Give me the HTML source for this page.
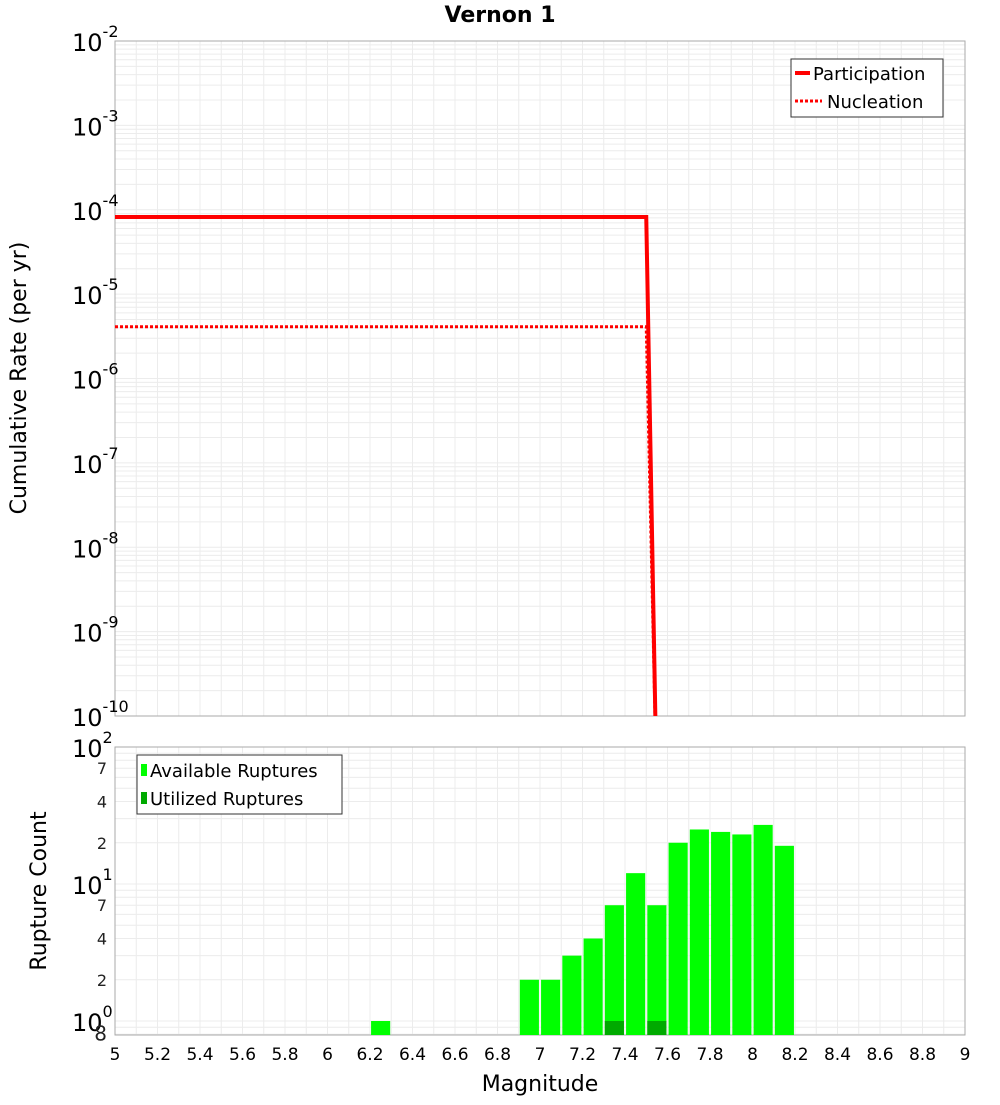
<!DOCTYPE html>
<html><head><meta charset="utf-8"><style>
body{margin:0;background:#fff;font-family:"Liberation Sans","DejaVu Sans",sans-serif}
svg text{font-family:"DejaVu Sans","Liberation Sans",sans-serif}
</style></head><body>
<svg id="c" width="1000" height="1100"></svg>
<script>
const partMags=[5,7.5,7.55];
const partRates=[8.2e-5,8.2e-5,1e-11];
const nuclMags=[5,7.5,7.55];
const nuclRates=[4.1e-6,4.1e-6,1e-11];
const binCenters=[6.25,6.95,7.05,7.15,7.25,7.35,7.45,7.55,7.65,7.75,7.85,7.95,8.05,8.15];
const availCounts=[1,2,2,3,4,7,12,7,20,25,24,23,27,19];
const usedCenters=[7.35,7.55];
const usedCounts=[1,1];
const xTicks=[5,5.2,5.4,5.6,5.8,6,6.2,6.4,6.6,6.8,7,7.2,7.4,7.6,7.8,8,8.2,8.4,8.6,8.8,9];
const NS='http://www.w3.org/2000/svg';
const svg=document.getElementById('c');
function mk(t,a,p){const e=document.createElementNS(NS,t);for(const k in a)e.setAttribute(k,a[k]);(p||svg).appendChild(e);return e;}
const L=115,R=965;
const X=m=>L+(m-5)/4*(R-L);
const T0=41,T1=716;
const Yt=v=>T0+(-2-Math.log10(v))/8*(T1-T0);
const B0=747,B1=1035;
const Yb=v=>B0+(2-Math.log10(v))*137;
// top grid
let g=mk('g',{});

for(let d=-10;d<-2;d++)for(let k=1;k<10;k++){const y=Yt(k*Math.pow(10,d));mk('line',{x1:L,x2:R,y1:y,y2:y,stroke:'#ececec','stroke-width':1},g);}
for(let i=0;i<=40;i++){const x=X(5+i*0.1);mk('line',{x1:x,x2:x,y1:T0,y2:T1,stroke:'#ececec'},g);mk('line',{x1:x,x2:x,y1:B0,y2:B1,stroke:'#ececec'},g);}
let gb=mk('g',{});

for(let d=-1;d<2;d++)for(let k=1;k<10;k++){const v=k*Math.pow(10,d);const y=Yb(v);if(y<B0||y>B1)continue;mk('line',{x1:L,x2:R,y1:y,y2:y,stroke:'#ececec'},gb);}
mk('rect',{x:L,y:T0,width:R-L,height:T1-T0,fill:'none',stroke:'#aaa'});
mk('rect',{x:L,y:B0,width:R-L,height:B1-B0,fill:'none',stroke:'#aaa'});
// top series
const clipT=mk('clipPath',{id:'ct'});mk('rect',{x:L,y:T0,width:R-L,height:T1-T0},clipT);
function line(ms,vs,dash,name){const p=mk('polyline',{points:ms.map((m,i)=>X(m)+','+Yt(vs[i])).join(' '),fill:'none',stroke:'#ff0000','stroke-width':dash?3:4,'stroke-dasharray':dash?'3,2':'none','clip-path':'url(#ct)'});}
line(partMags,partRates,false,'participation-line');
line(nuclMags,nuclRates,true,'nucleation-line');
// bars
binCenters.forEach((c,i)=>{const y=Yb(availCounts[i]);const b=mk('rect',{x:X(c-0.045),y:y,width:X(0.09+5)-L,height:B1-y,fill:'#00ff00'});});
usedCenters.forEach((c,i)=>{const y=Yb(usedCounts[i]);const b=mk('rect',{x:X(c-0.045),y:y,width:X(0.09+5)-L,height:B1-y,fill:'#00aa00'});});
// axes labels
function txt(x,y,s,o){const t=mk('text',Object.assign({x:x,y:y,'font-size':20,fill:'#000'},o||{}));t.textContent=s;return t;}
for(let d=-10;d<=-2;d++){const y=Yt(Math.pow(10,d));const t=mk('text',{x:72,y:y+10,'font-size':24});t.textContent='10';const s=mk('tspan',{dy:-14,'font-size':16},t);s.textContent=String(d);}
[[100,'10','2'],[10,'10','1'],[1,'10','0']].forEach(a=>{const y=Yb(a[0]);const t=mk('text',{x:72,y:y+10,'font-size':24});t.textContent=a[1];const s=mk('tspan',{dy:-14,'font-size':16},t);s.textContent=a[2];});
[[70,'7'],[40,'4'],[20,'2'],[7,'7'],[4,'4'],[2,'2'],[0.8,'8']].forEach(a=>{const t=txt(107,Yb(a[0])+6,a[1],{'font-size':16,'text-anchor':'end',fill:'#222'});if(a[0]===0.8)t.setAttribute('font-size',20);});
xTicks.forEach(m=>{const t=txt(X(m),1060,String(m),{'font-size':17,'text-anchor':'middle'});});
txt(540,1091,'Magnitude',{'font-size':22,'text-anchor':'middle'});
txt(500,22,'Vernon 1',{'font-size':22,'font-weight':'bold','text-anchor':'middle'});
txt(26,378,'Cumulative Rate (per yr)',{'font-size':22,'text-anchor':'middle',transform:'rotate(-90 26 378)'});
txt(46,891,'Rupture Count',{'font-size':22,'text-anchor':'middle',transform:'rotate(-90 46 891)'});
// legends
let lg=mk('g',{});
mk('rect',{x:791,y:59,width:152,height:58,fill:'#fff',stroke:'#333'},lg);
mk('line',{x1:795,x2:810,y1:73,y2:73,stroke:'#f00','stroke-width':4},lg);
mk('line',{x1:795,x2:822,y1:101,y2:101,stroke:'#f00','stroke-width':3,'stroke-dasharray':'3,2'},lg);
txt(813,80,'Participation',{'font-size':18});
txt(827,108,'Nucleation',{'font-size':18});
let lb=mk('g',{});
mk('rect',{x:137,y:755,width:205,height:59,fill:'#fff',stroke:'#333'},lb);
mk('rect',{x:141,y:764,width:6,height:12,fill:'#00ff00'},lb);
mk('rect',{x:141,y:792,width:6,height:12,fill:'#00aa00'},lb);
txt(150,777,'Available Ruptures',{'font-size':18});
txt(150,805,'Utilized Ruptures',{'font-size':18});
</script></body></html>
